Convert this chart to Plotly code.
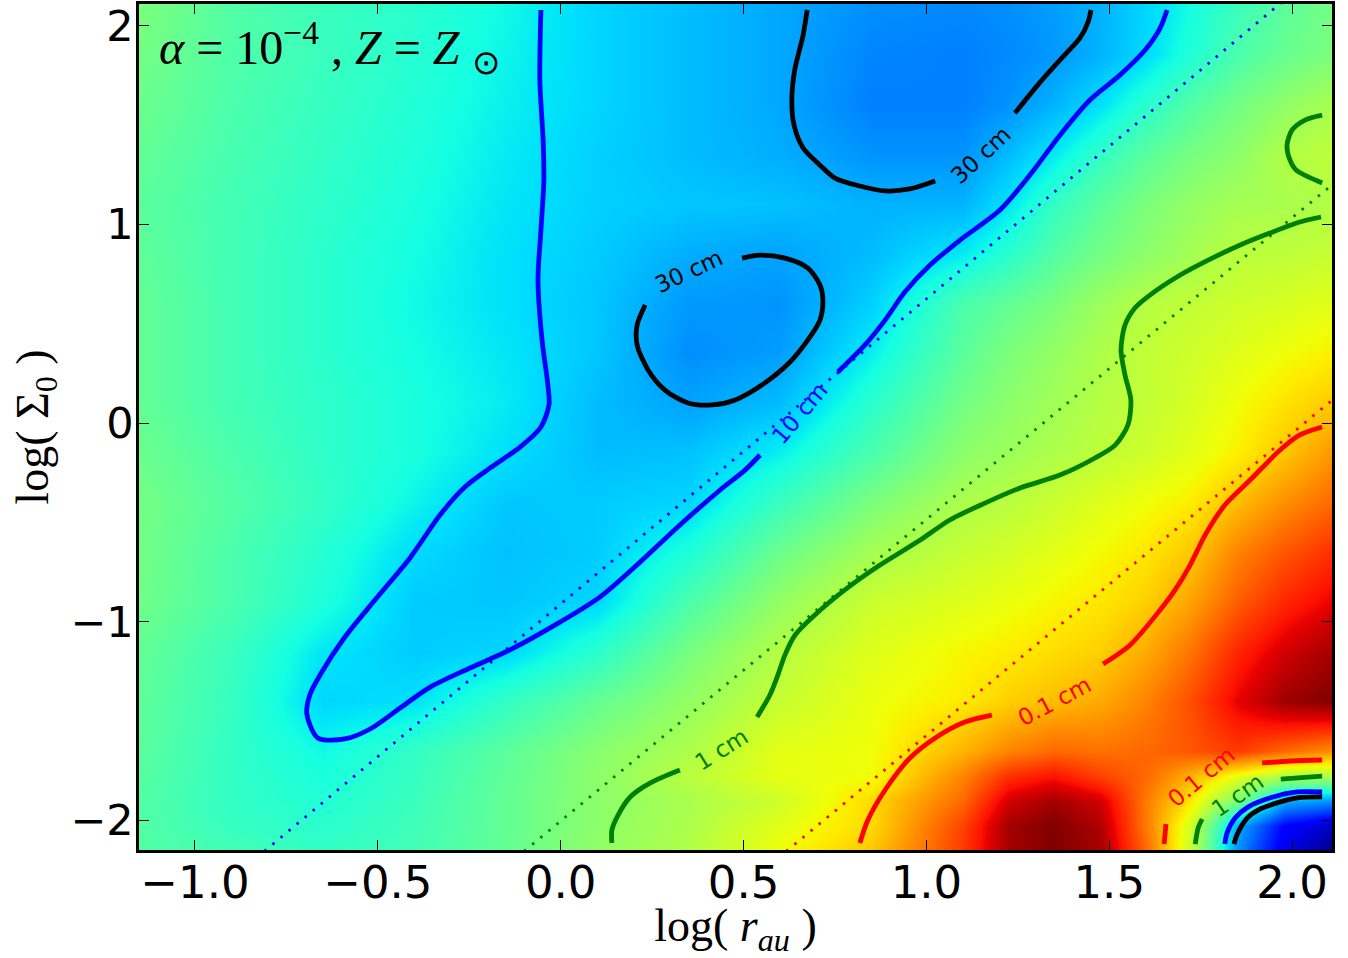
import plotly.graph_objects as go

# Grid of the coloured field (value = position on the jet colour ramp, 0..1)
log_r = [-1.155, -0.9, -0.65, -0.4, -0.15, 0.1, 0.35, 0.6, 0.85, 1.1, 1.225, 1.35, 1.475, 1.6, 1.725, 1.85, 1.98, 2.11]
log_sigma = [2.115, 1.85, 1.6, 1.35, 1.1, 0.85, 0.6, 0.35, 0.1, -0.15, -0.4, -0.65, -0.9, -1.15, -1.4, -1.65, -1.775, -1.9, -2.03, -2.155]
field = [
    [.50, .45, .42, .40, .37, .335, .31, .29, .265, .26, .265, .28, .30, .335, .375, .42, .46, .49],
    [.49, .445, .42, .395, .365, .335, .31, .29, .255, .25, .26, .275, .30, .34, .39, .44, .475, .50],
    [.48, .44, .415, .39, .36, .335, .31, .29, .25, .25, .27, .30, .345, .40, .45, .49, .525, .555],
    [.47, .435, .41, .385, .355, .33, .31, .295, .27, .27, .31, .355, .41, .46, .495, .52, .565, .58],
    [.46, .43, .405, .38, .35, .33, .32, .315, .30, .30, .35, .41, .46, .50, .53, .55, .555, .565],
    [.465, .43, .40, .375, .345, .325, .295, .285, .31, .355, .40, .45, .49, .52, .55, .575, .58, .59],
    [.47, .43, .40, .37, .345, .32, .275, .27, .33, .44, .47, .50, .54, .57, .585, .60, .61, .625],
    [.47, .43, .40, .375, .35, .32, .265, .28, .36, .46, .50, .53, .56, .585, .60, .62, .64, .655],
    [.47, .43, .405, .38, .355, .31, .285, .31, .40, .49, .52, .545, .57, .585, .61, .64, .67, .695],
    [.48, .44, .405, .38, .345, .31, .315, .36, .44, .52, .54, .56, .58, .60, .625, .655, .70, .75],
    [.49, .45, .41, .365, .32, .325, .335, .42, .50, .56, .575, .595, .62, .64, .66, .71, .76, .80],
    [.49, .44, .395, .34, .315, .325, .385, .48, .55, .59, .605, .625, .645, .665, .70, .77, .82, .86],
    [.485, .44, .385, .325, .32, .335, .44, .53, .595, .62, .635, .65, .665, .69, .74, .81, .87, .91],
    [.47, .42, .35, .325, .335, .40, .495, .57, .62, .65, .66, .675, .69, .73, .79, .87, .93, .97],
    [.465, .415, .335, .345, .41, .47, .53, .59, .635, .66, .69, .71, .73, .77, .83, .91, .975, 1.0],
    [.46, .41, .37, .41, .46, .515, .56, .625, .64, .72, .77, .80, .79, .80, .82, .85, .80, .76],
    [.455, .41, .38, .415, .465, .52, .575, .63, .64, .77, .86, .89, .84, .80, .72, .63, .56, .56],
    [.45, .41, .39, .42, .47, .52, .555, .60, .68, .80, .93, .97, .93, .78, .66, .50, .30, .27],
    [.45, .415, .40, .425, .47, .52, .56, .625, .68, .84, .97, 1.0, .96, .78, .60, .30, .12, .06],
    [.45, .43, .41, .43, .47, .525, .565, .64, .70, .85, .97, 1.0, .97, .80, .58, .27, .09, .0],
]

# Dotted guide lines
blue_dot_x = [-0.81, 1.97]
blue_dot_y = [-2.155, 2.115]
green_dot_x = [-0.10, 2.11]
green_dot_y = [-2.155, 1.20]
red_dot_x = [0.617, 2.11]
red_dot_y = [-2.155, 0.116]

# Contours
blue_a_x = [-.054, -.057, -.048, -.046, -.054, -.062, -.051, -.035, -.032, -.054, -.111, -.193, -.262, -.330, -.412, -.508, -.590, -.653, -.686, -.694, -.664, -.590, -.521, -.439, -.357, -.248, -.139, -.002, .107, .217, .326, .436, .504, .545]
blue_a_y = [2.079, 1.726, 1.424, 1.223, .971, .720, .418, .191, .091, -.020, -.121, -.226, -.322, -.463, -.679, -.891, -1.077, -1.253, -1.369, -1.465, -1.585, -1.590, -1.540, -1.434, -1.329, -1.233, -1.142, -1.002, -.876, -.700, -.513, -.337, -.237, -.161]
blue_b_x = [.758, .832, .887, .941, 1.010, 1.092, 1.201, 1.283, 1.365, 1.447, 1.529, 1.598, 1.639, 1.658]
blue_b_y = [.257, .393, .518, .659, .795, .921, 1.072, 1.248, 1.449, 1.626, 1.751, 1.877, 1.988, 2.079]
blue_c_x = [1.816, 1.822, 1.844, 1.879, 1.948, 2.014, 2.082]
blue_c_y = [-2.119, -2.063, -1.988, -1.933, -1.882, -1.857, -1.857]

black_a_x = [.674, .663, .640, .632, .638, .663, .709, .750, .818, .887, .954, 1.024]
black_a_y = [2.079, 1.953, 1.777, 1.626, 1.500, 1.384, 1.298, 1.233, 1.193, 1.168, 1.178, 1.218]
black_b_x = [1.242, 1.311, 1.365, 1.420, 1.442, 1.450]
black_b_y = [1.560, 1.716, 1.827, 1.938, 2.018, 2.079]
black_c_x = [.496, .545, .613, .676, .709, .717, .709, .676, .627, .550, .477, .414, .348, .285, .239, .209, .209, .231]
black_c_y = [.830, .845, .830, .780, .695, .619, .518, .418, .307, .191, .116, .091, .101, .166, .267, .393, .493, .594]
black_d_x = [1.841, 1.849, 1.877, 1.907, 1.959, 2.014, 2.082]
black_d_y = [-2.119, -2.073, -1.988, -1.948, -1.912, -1.887, -1.882]

green_a_x = [2.079, 2.021, 1.939, 1.858, 1.776, 1.694, 1.611, 1.570, 1.543, 1.532, 1.543, 1.559, 1.551, 1.516, 1.461, 1.365, 1.256, 1.160, 1.064, .983, .873, .777, .695, .641, .613, .594, .572, .537]
green_a_y = [1.037, 1.012, .956, .896, .825, .745, .644, .579, .493, .367, .242, .116, -.010, -.111, -.176, -.262, -.327, -.403, -.488, -.589, -.715, -.840, -.966, -1.067, -1.168, -1.268, -1.369, -1.480]
green_b_x = [.326, .244, .190, .157, .140, .140]
green_b_y = [-1.746, -1.812, -1.882, -1.973, -2.048, -2.114]
green_c_x = [2.082, 2.035, 2.0, 1.986, 1.994, 2.011, 2.082]
green_c_y = [1.550, 1.525, 1.475, 1.399, 1.324, 1.273, 1.208]
green_d_x = [1.969, 2.082]
green_d_y = [-1.792, -1.777]
green_e_x = [1.754, 1.743, 1.735]
green_e_y = [-1.993, -2.038, -2.119]

red_a_x = [2.082, 2.021, 1.967, 1.885, 1.816, 1.762, 1.721, 1.680, 1.639, 1.557, 1.483]
red_a_y = [-.020, -.060, -.136, -.287, -.413, -.564, -.715, -.840, -.941, -1.117, -1.213]
red_b_x = [1.179, 1.105, 1.024, .955, .887, .840, .818]
red_b_y = [-1.470, -1.505, -1.585, -1.686, -1.847, -1.998, -2.114]
red_c_x = [1.918, 1.995, 2.082]
red_c_y = [-1.711, -1.701, -1.696]
red_d_x = [1.655, 1.650]
red_d_y = [-2.018, -2.119]

# Inline contour labels
label_text = ["30 cm", "30 cm", "10 cm", "1 cm", "0.1 cm", "0.1 cm", "1 cm"]
label_x = [1.149, .351, .654, .441, 1.351, 1.751, 1.851]
label_y = [1.349, .765, .05, -1.641, -1.399, -1.782, -1.872]
label_angle = [-43, -25, -50, -32, -28, -40, -35]
label_color = ["black", "black", "blue", "green", "red", "red", "green"]

x_ticks = [-1.0, -0.5, 0.0, 0.5, 1.0, 1.5, 2.0]
x_tick_text = ["−1.0", "−0.5", "0.0", "0.5", "1.0", "1.5", "2.0"]
y_ticks = [-2, -1, 0, 1, 2]
y_tick_text = ["−2", "−1", "0", "1", "2"]

jet = [
    [0.0, "rgb(0,0,128)"], [0.11, "rgb(0,0,255)"], [0.125, "rgb(0,0,255)"],
    [0.34, "rgb(0,219,255)"], [0.35, "rgb(0,230,247)"], [0.375, "rgb(21,255,226)"],
    [0.64, "rgb(239,255,8)"], [0.65, "rgb(247,246,0)"], [0.66, "rgb(255,236,0)"],
    [0.89, "rgb(255,19,0)"], [0.91, "rgb(232,0,0)"], [1.0, "rgb(128,0,0)"],
]

fig = go.Figure()
fig.add_trace(go.Heatmap(x=log_r, y=log_sigma[::-1], z=field[::-1], colorscale=jet,
                         zmin=0, zmax=1, zsmooth="best", showscale=False, hoverinfo="skip"))

for xs, ys, c in [(blue_dot_x, blue_dot_y, "blue"), (green_dot_x, green_dot_y, "green"), (red_dot_x, red_dot_y, "red")]:
    fig.add_trace(go.Scatter(x=xs, y=ys, mode="lines", showlegend=False,
                             line=dict(color=c, width=2.8, dash="2.5px,8px")))

for xs, ys, c in [
    (blue_a_x, blue_a_y, "blue"), (blue_b_x, blue_b_y, "blue"), (blue_c_x, blue_c_y, "blue"),
    (black_a_x, black_a_y, "black"), (black_b_x, black_b_y, "black"), (black_c_x, black_c_y, "black"),
    (black_d_x, black_d_y, "black"),
    (green_a_x, green_a_y, "green"), (green_b_x, green_b_y, "green"), (green_c_x, green_c_y, "green"),
    (green_d_x, green_d_y, "green"), (green_e_x, green_e_y, "green"),
    (red_a_x, red_a_y, "red"), (red_b_x, red_b_y, "red"), (red_c_x, red_c_y, "red"), (red_d_x, red_d_y, "red"),
]:
    fig.add_trace(go.Scatter(x=xs, y=ys, mode="lines", showlegend=False,
                             line=dict(color=c, width=4.8, shape="spline", smoothing=0.8)))

for t, x, y, a, c in zip(label_text, label_x, label_y, label_angle, label_color):
    fig.add_annotation(x=x, y=y, text=t, textangle=a, showarrow=False,
                       font=dict(family="DejaVu Sans", size=23, color=c))

fig.add_annotation(xref="paper", yref="paper", x=0.015, y=0.99, xanchor="left", yanchor="top", showarrow=False,
                   text="<i>α</i> = 10<sup>−4</sup> , <i>Z</i> = <i>Z</i> <sub>⊙</sub>",
                   font=dict(family="Liberation Serif", size=48, color="black"))

axis = dict(showline=True, linecolor="black", linewidth=2.5, mirror="ticks", ticks="inside", ticklen=10,
            tickwidth=1, tickcolor="black", showgrid=False, zeroline=False)
fig.update_xaxes(range=[-1.153, 2.109], tickvals=x_ticks, ticktext=x_tick_text, ticklabelstandoff=-9,
                 tickfont=dict(family="DejaVu Sans", size=45, color="black"),
                 title=dict(text="log( <i>r<sub>au</sub></i> )", font=dict(family="Liberation Serif", size=46, color="black"), standoff=0), **axis)
fig.update_yaxes(range=[-2.149, 2.109], tickvals=y_ticks, ticktext=y_tick_text, ticklabelstandoff=-6,
                 tickfont=dict(family="DejaVu Sans", size=43, color="black"),
                 title=dict(text="log( Σ<sub>0</sub> )", font=dict(family="Liberation Serif", size=46, color="black"), standoff=8), **axis)
fig.update_layout(width=1348, height=958, margin=dict(l=139, r=16, t=4, b=108, autoexpand=False),
                  paper_bgcolor="white", plot_bgcolor="white", showlegend=False)
fig.write_html("out.html", post_script="document.body.style.margin='0';", config={"displayModeBar": False})
